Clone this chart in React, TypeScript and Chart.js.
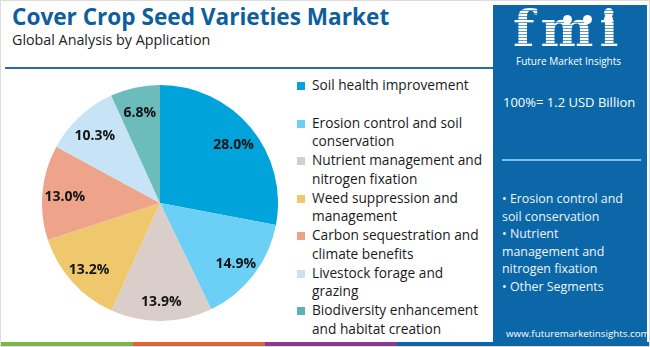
import React, { useEffect, useRef } from "react";
import { Chart, registerables } from "chart.js";

Chart.register(...registerables);

const categories = [
  "Soil health improvement",
  "Erosion control and soil conservation",
  "Nutrient management and nitrogen fixation",
  "Weed suppression and management",
  "Carbon sequestration and climate benefits",
  "Livestock forage and grazing",
  "Biodiversity enhancement and habitat creation",
];
const shares = [28.0, 14.9, 13.9, 13.2, 13.0, 10.3, 6.8];
const sliceColors = ["#00a3da", "#6ccff5", "#d9ceca", "#efc86e", "#eea38b", "#c6e4f6", "#6cbcbc"];
const legendColors = ["#0aa0d8", "#6cd0f5", "#d0cfcf", "#f0c86c", "#efa28a", "#c6e4f6", "#5bb3b5"];
const panelBullets = [
  "Erosion control and soil conservation",
  "Nutrient management and nitrogen fixation",
  "Other Segments",
];
const titleText = "Cover Crop Seed Varieties Market";
const subtitleText = "Global Analysis by Application";
const totalLabel = "100%= 1.2 USD Billion";
const siteText = "www.futuremarketinsights.com";
const stripColors = ["#7ab648", "#e0663a", "#8e3a8c", "#0b67a7"];

const FONT = "'Open Sans', sans-serif";

const labelPlugin = {
  id: "sliceLabels",
  afterDatasetsDraw(chart: any) {
    const meta = chart.getDatasetMeta(0);
    const ctx = chart.ctx;
    ctx.save();
    ctx.font = "bold 14px 'Open Sans'";
    ctx.fillStyle = "#141414";
    ctx.textAlign = "center";
    ctx.textBaseline = "middle";
    meta.data.forEach((arc: any, i: number) => {
      const p = arc.getProps(["startAngle", "endAngle", "outerRadius", "x", "y"], true);
      const mid = (p.startAngle + p.endAngle) / 2;
      const r = p.outerRadius * 0.81;
      ctx.fillText(shares[i].toFixed(1) + "%", p.x + Math.cos(mid) * r, p.y + Math.sin(mid) * r + 3);
    });
    ctx.restore();
  },
};

export default function App() {
  const ref = useRef<HTMLCanvasElement | null>(null);

  useEffect(() => {
    document.body.style.margin = "0";
    if (!ref.current) return;
    const chart = new Chart(ref.current, {
      type: "pie",
      data: {
        labels: categories,
        datasets: [
          {
            data: shares,
            backgroundColor: sliceColors,
            borderWidth: 0,
          },
        ],
      },
      options: {
        responsive: false,
        maintainAspectRatio: false,
        animation: false,
        layout: { padding: 0 },
        plugins: {
          legend: { display: false },
          tooltip: { enabled: false },
        },
      },
      plugins: [labelPlugin],
    });
    return () => chart.destroy();
  }, []);

  return (
    <div
      style={{
        position: "fixed",
        left: 0,
        top: 0,
        width: 650,
        height: 347,
        boxSizing: "border-box",
        border: "1px solid #dcdcdc",
        background: "#fff",
        overflow: "hidden",
        fontFamily: FONT,
      }}
    >
      <div
        style={{
          position: "absolute",
          left: 11,
          top: 1,
          fontSize: 22.6,
          fontWeight: 700,
          color: "#0d5e9c",
          whiteSpace: "nowrap",
          lineHeight: "30px",
        }}
      >
        {titleText}
      </div>
      <div
        style={{
          position: "absolute",
          left: 11,
          top: 29,
          fontSize: 14.3,
          color: "#222",
          whiteSpace: "nowrap",
          lineHeight: "20px",
        }}
      >
        {subtitleText}
      </div>
      <div style={{ position: "absolute", left: 4, top: 66, width: 488, height: 1.5, background: "#2d6aa3" }} />

      <canvas
        ref={ref}
        width={236}
        height={236}
        style={{ position: "absolute", left: 41, top: 84, width: 236, height: 236 }}
      />

      <div style={{ position: "absolute", left: 296, top: 75, width: 190 }}>
        {categories.map((c, i) => (
          <div key={c} style={{ display: "flex", height: 37.5, alignItems: "flex-start" }}>
            <div
              style={{
                width: 8,
                height: 8,
                marginTop: 6,
                background: legendColors[i],
                flex: "0 0 auto",
              }}
            />
            <div style={{ marginLeft: 7, fontSize: 13.7, lineHeight: "18.75px", color: "#1a1a1a", width: 178 }}>
              {c}
            </div>
          </div>
        ))}
      </div>

      <div style={{ position: "absolute", left: 492, top: 4, width: 154, height: 343, background: "#0b67a7" }}>
        <div
          style={{
            position: "absolute",
            left: 20,
            top: -6,
            fontFamily: "'DejaVu Serif', serif",
            fontWeight: 700,
            fontSize: 50,
            letterSpacing: 6,
            lineHeight: "60px",
            color: "transparent",
            backgroundImage: "repeating-linear-gradient(#ffffff 0px, #ffffff 2px, rgba(255,255,255,0.35) 2px, rgba(255,255,255,0.35) 3px)",
            WebkitBackgroundClip: "text",
            backgroundClip: "text",
          }}
        >
          fmi
        </div>
        <div style={{ position: "absolute", left: 70, top: 10, width: 9, height: 9, borderRadius: 5, background: "#fff" }} />
        <div style={{ position: "absolute", left: 90, top: 10, width: 9, height: 9, borderRadius: 5, background: "#fff" }} />
        <div style={{ position: "absolute", left: 111, top: 10, width: 9, height: 9, borderRadius: 5, background: "#fff" }} />
        <div
          style={{
            position: "absolute",
            left: 23,
            top: 49,
            fontSize: 10,
            color: "#fff",
            whiteSpace: "nowrap",
            lineHeight: "14px",
          }}
        >
          Future Market Insights
        </div>
        <div
          style={{
            position: "absolute",
            left: 10,
            top: 87,
            fontSize: 13,
            color: "#fff",
            whiteSpace: "nowrap",
            lineHeight: "20px",
          }}
        >
          {totalLabel}
        </div>
        <div style={{ position: "absolute", left: 9, top: 154, width: 139, height: 2, background: "#7fbdec" }} />
        <div style={{ position: "absolute", left: 9, top: 185, width: 132, fontSize: 12.4, lineHeight: "17.5px", color: "#eef5fb" }}>
          {panelBullets.map((b) => (
            <div key={b}>{"\u2022 " + b}</div>
          ))}
        </div>
        <div
          style={{
            position: "absolute",
            left: 13,
            top: 322,
            fontSize: 9.8,
            color: "#fff",
            whiteSpace: "nowrap",
            lineHeight: "14px",
          }}
        >
          {siteText}
        </div>
      </div>

      <div style={{ position: "absolute", left: 0, bottom: 0, width: 650, height: 4, display: "flex" }}>
        {stripColors.map((c, i) => (
          <div key={c} style={{ width: i < 3 ? 132 : 254, height: 4, background: c }} />
        ))}
      </div>
    </div>
  );
}
